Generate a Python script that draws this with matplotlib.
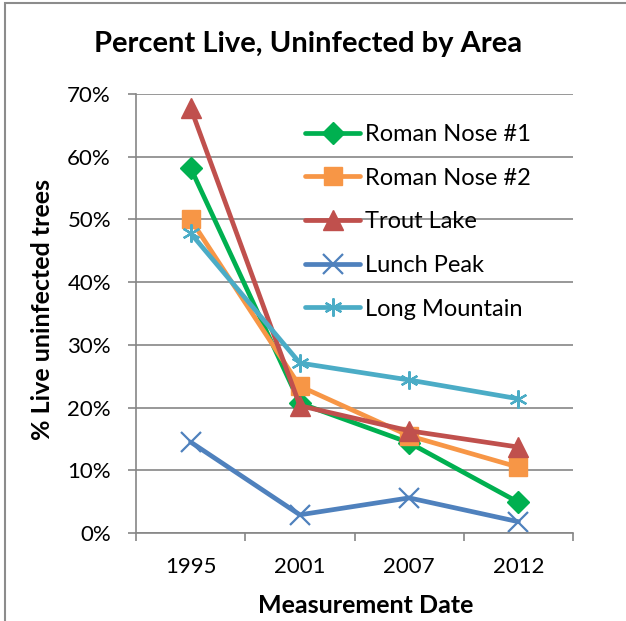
import matplotlib
matplotlib.use("Agg")
import matplotlib.pyplot as plt
from matplotlib.patches import Rectangle
from matplotlib.ticker import FuncFormatter, FixedLocator

years = ["1995", "2001", "2007", "2012"]
roman_nose_1 = [58.2, 20.7, 14.4, 4.9]
roman_nose_2 = [50.0, 23.4, 15.5, 10.5]
trout_lake = [67.8, 20.3, 16.3, 13.7]
lunch_peak = [14.5, 2.9, 5.6, 1.8]
long_mountain = [47.8, 27.1, 24.4, 21.4]

series = [
    ("Roman Nose #1", roman_nose_1, "#00B050", "D", 11),
    ("Roman Nose #2", roman_nose_2, "#F79646", "s", 13),
    ("Trout Lake", trout_lake, "#C0504D", "^", 14),
    ("Lunch Peak", lunch_peak, "#4F81BD", "x", 14),
    ("Long Mountain", long_mountain, "#4BACC6", (6, 2, 0), 13),
]

plt.rcParams["font.family"] = ["Lato", "DejaVu Sans"]

W, H = 626, 621
fig = plt.figure(figsize=(W / 100, H / 100), dpi=100)
ax = fig.add_axes([136 / W, 1 - 533 / H, (573 - 136) / W, (533 - 94) / H])

x = list(range(len(years)))
for name, vals, color, marker, ms in series:
    mew = 1.6 if marker in ("x", (6, 2, 0)) else 1
    ax.plot(x, vals, color=color, lw=3.4, marker=marker, markersize=ms,
            markeredgewidth=mew, markeredgecolor=color, markerfacecolor=color,
            label=name, solid_capstyle="round", solid_joinstyle="round")

ax.set_xlim(-0.5, len(years) - 0.5)
ax.set_ylim(0, 70)
ax.yaxis.set_major_locator(FixedLocator(range(0, 71, 10)))
ax.yaxis.set_major_formatter(FuncFormatter(lambda v, p: f"{int(v)}%"))
ax.set_xticks(x)
ax.set_xticklabels(years)
ax.xaxis.set_minor_locator(FixedLocator([i - 0.5 for i in range(len(years) + 1)]))
ax.tick_params(axis="x", which="major", length=0, pad=17, labelsize=16)
ax.tick_params(axis="x", which="minor", length=6, color="#868686", width=1.2)
ax.tick_params(axis="y", length=6, color="#868686", width=1.2, labelsize=16, pad=12)

ax.grid(axis="y", color="#868686", lw=1.2)
ax.set_axisbelow(True)
for side in ("top", "right"):
    ax.spines[side].set_visible(False)
for side in ("left", "bottom"):
    ax.spines[side].set_color("#868686")
    ax.spines[side].set_linewidth(1.2)

fig.text(366 / W, 1 - 613 / H, "Measurement Date", ha="center", va="baseline",
         fontsize=18, fontweight="bold")
fig.text(43 / W, 1 - 309 / H, "% Live uninfected trees", ha="center", va="center",
         rotation=90, fontsize=18, fontweight="bold")
fig.text(308 / W, 1 - 52 / H, "Percent Live, Uninfected by Area", ha="center",
         va="baseline", fontsize=21, fontweight="bold")

ax_w, ax_h = 573 - 136, 533 - 94
leg = ax.legend(loc="upper left",
                bbox_to_anchor=((305 - 136) / ax_w, 1 - (124 - 94) / ax_h),
                frameon=False, fontsize=17, handlelength=2.35, labelspacing=0.96,
                handletextpad=0.2, borderaxespad=0, borderpad=0)

fig.patches.append(Rectangle((5 / W, -0.1), 1.2, 1 - 3 / H + 0.1, transform=fig.transFigure,
                             fill=False, edgecolor="#8C8C8C", lw=1.5))

fig.savefig("out.png", dpi=100)
